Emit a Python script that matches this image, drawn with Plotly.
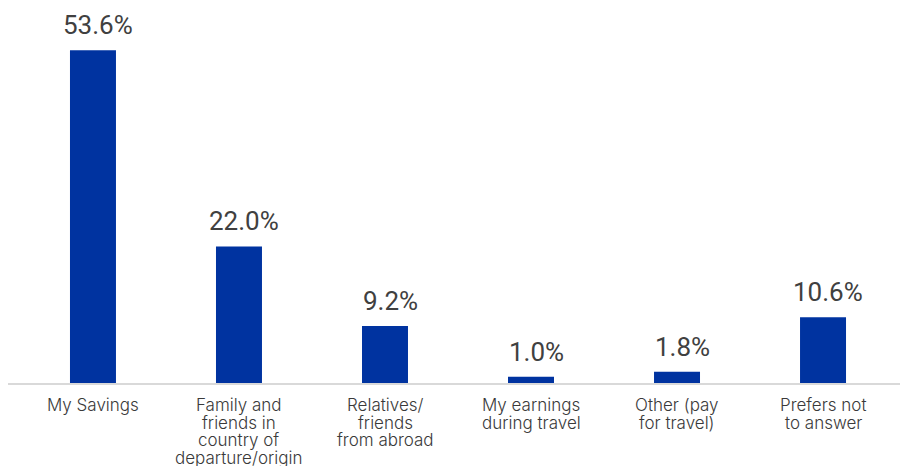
import plotly.graph_objects as go

categories = ["My Savings", "Family and<br>friends in<br>country of<br>departure/origin",
              "Relatives/<br>friends<br>from abroad", "My earnings<br>during travel",
              "Other (pay<br>for travel)", "Prefers not<br>to answer"]
values = [53.6, 22.0, 9.2, 1.0, 1.8, 10.6]
value_labels = ["53.6%", "22.0%", "9.2%", "1.0%", "1.8%", "10.6%"]

bar_color = "#0033A0"
line_pitch = 17.6

fig = go.Figure()
fig.add_trace(go.Bar(
    x=list(range(len(categories))), y=values,
    marker=dict(color=bar_color, line=dict(width=0)),
    width=0.315, hoverinfo="skip",
))

for i, (v, t) in enumerate(zip(values, value_labels)):
    fig.add_annotation(x=i, y=v, text=t, showarrow=False, yanchor="bottom",
                       yshift=8, xshift=5,
                       font=dict(family="Roboto", size=26, color="#404040", weight=400))

# category labels with tight line spacing
for i, cat in enumerate(categories):
    for j, line in enumerate(cat.split("<br>")):
        fig.add_annotation(x=i, xref="x", y=0, yref="paper", text=line, showarrow=False,
                           yanchor="middle", yshift=-22 - j * line_pitch,
                           font=dict(family="Inter", size=17, color="#3a3a3a", weight=300))

fig.update_layout(
    width=908, height=466,
    margin=dict(l=0, r=8, t=0, b=91, autoexpand=False),
    paper_bgcolor="white", plot_bgcolor="white",
    showlegend=False,
    xaxis=dict(range=[-0.582, 5.582], tickvals=list(range(len(categories))),
               showticklabels=False, automargin=False,
               showgrid=False, zeroline=False, showline=True,
               linecolor="#d9d9d9", linewidth=2, ticks=""),
    yaxis=dict(range=[0, 60.4], visible=False, showgrid=False, zeroline=False,
               automargin=False),
)

fig.write_html("out.html")
